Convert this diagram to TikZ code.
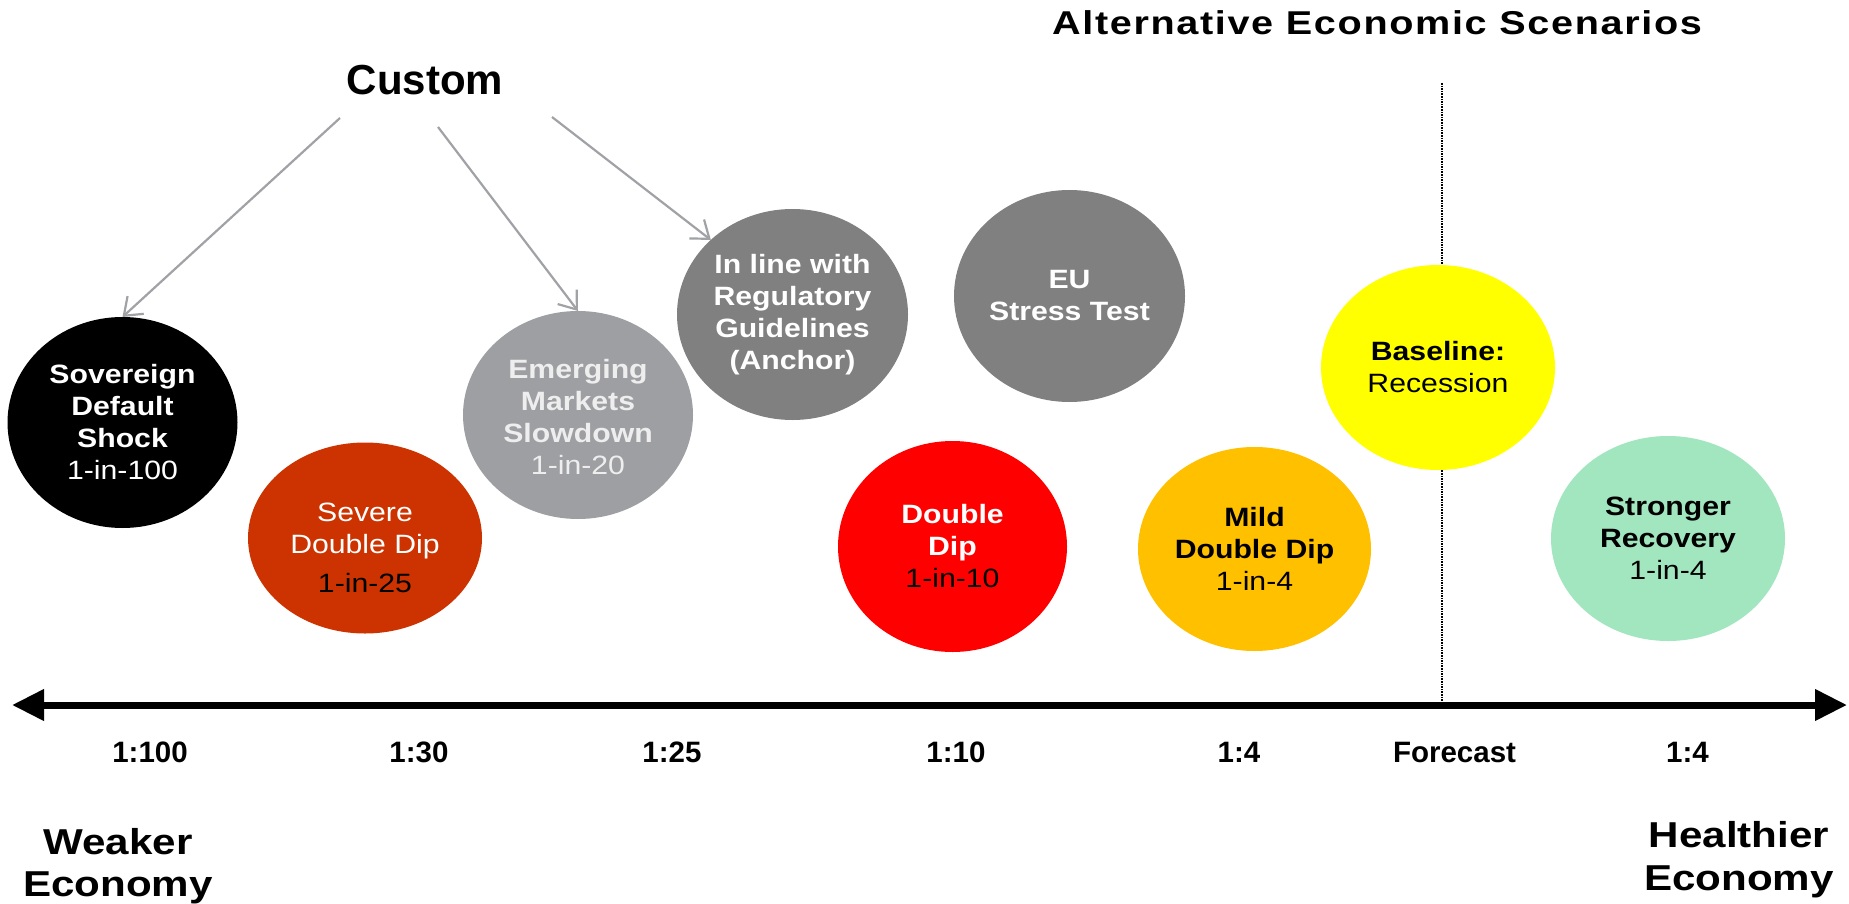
\documentclass[tikz,border=0pt]{standalone}
\usepackage{fontspec}
\setmainfont{Liberation Sans}
\newfontfamily\circfont{Liberation Sans}[FakeStretch=1.14]
\newfontfamily\widefont{Liberation Sans}[FakeStretch=1.17]
\newfontfamily\titlefont{Liberation Sans}[FakeStretch=1.2,LetterSpace=5]
\newfontfamily\tickfont{Liberation Sans}[FakeStretch=1.0]
\usetikzlibrary{arrows.meta,shapes.geometric}

\definecolor{cBlack}{HTML}{000000}
\definecolor{cSevere}{HTML}{CC3300}
\definecolor{cEmerging}{HTML}{9D9FA2}
\definecolor{cAnchor}{HTML}{808080}
\definecolor{cDouble}{HTML}{FF0000}
\definecolor{cMild}{HTML}{FFC000}
\definecolor{cBase}{HTML}{FFFF00}
\definecolor{cStrong}{HTML}{A2E6C0}
\definecolor{cArrow}{HTML}{A0A2A5}
\definecolor{cLight}{HTML}{EEEEEE}

\begin{document}
\begin{tikzpicture}[x=1pt,y=-1pt,
  bubble/.style={ellipse, draw=none, inner sep=0pt, outer sep=0pt},
  btext/.style={inner sep=0pt, align=center,
    font={\circfont\fontsize{26.5}{32}\selectfont}},
  tick/.style={inner sep=0pt, anchor=base,
    font={\tickfont\bfseries\fontsize{29.5}{34}\selectfont}},
  side/.style={inner sep=0pt, anchor=base,
    font={\widefont\bfseries\fontsize{36}{44}\selectfont}},
  custarrow/.style={draw=cArrow, line width=2.2pt,
    -{Straight Barb[length=16pt,width=24pt]}},
  axis/.style={line width=7pt,
    {Triangle[length=32pt,width=30pt]}-{Triangle[length=32pt,width=30pt]}}
]
\fill[white] (0,0) rectangle (1849,904);
\useasboundingbox (0,0) rectangle (1849,904);

% forecast divider (drawn first so the bubbles sit on top of it)
\coordinate (fcTop) at (1442,83);
\coordinate (axL) at (12,705);
\coordinate (axR) at (1847,705);
\draw[densely dotted, line width=1.6pt] (fcTop) -- (fcTop |- axL);

% scenario bubbles
\node[bubble, fill=cBlack,    minimum width=230pt, minimum height=211pt] (sov)    at (122.5,422.5) {};
\node[bubble, fill=cSevere,   minimum width=234pt, minimum height=191pt] (sdd)    at (365,538) {};
\node[bubble, fill=cEmerging, minimum width=230pt, minimum height=208pt] (emg)    at (578,415) {};
\node[bubble, fill=cAnchor,   minimum width=231pt, minimum height=211pt] (inl)    at (792.5,314.5) {};
\node[bubble, fill=cAnchor,   minimum width=231pt, minimum height=212pt] (eu)     at (1069.5,296) {};
\node[bubble, fill=cDouble,   minimum width=229pt, minimum height=211pt] (dd)     at (952.5,546.5) {};
\node[bubble, fill=cMild,     minimum width=233pt, minimum height=204pt] (mild)   at (1254.5,549) {};
\node[bubble, fill=cBase,     minimum width=234pt, minimum height=205pt] (base)   at (1438,367.5) {};
\node[bubble, fill=cStrong,   minimum width=234pt, minimum height=205pt] (strong) at (1668,538.5) {};

% bubble captions
\node[btext, text=white] (sovT) at (sov.center)
  {{\bfseries Sovereign}\\{\bfseries Default}\\{\bfseries Shock}\\1-in-100};
\node[btext, text=white] (sddT) at ([yshift=-10pt]sdd.center)
  {Severe\\Double Dip\\[7pt]\textcolor{black}{1-in-25}};
\node[btext, text=cLight] (emgT) at ([yshift=-2pt]emg.center)
  {{\bfseries Emerging}\\{\bfseries Markets}\\{\bfseries Slowdown}\\1-in-20};
\node[btext, text=white] (inlT) at (inl.center)
  {{\bfseries In line with}\\{\bfseries Regulatory}\\{\bfseries Guidelines}\\{\bfseries (Anchor)}};
\node[btext, text=white] (euT) at (eu.center)
  {{\bfseries EU}\\{\bfseries Stress Test}};
\node[btext, text=white] (ddT) at (dd.center)
  {{\bfseries Double}\\{\bfseries Dip}\\\textcolor{black}{1-in-10}};
\node[btext, text=black] (mildT) at (mild.center)
  {{\bfseries Mild}\\{\bfseries Double Dip}\\1-in-4};
\node[btext, text=black] (baseT) at (base.center)
  {{\bfseries Baseline:}\\Recession};
\node[btext, text=black] (strongT) at (strong.center)
  {{\bfseries Stronger}\\{\bfseries Recovery}\\1-in-4};

% headings
\node[inner sep=0pt, anchor=base, font={\titlefont\bfseries\fontsize{33}{38}\selectfont}]
  (title) at (1377,35) {Alternative Economic Scenarios};
\node[inner sep=0pt, anchor=base, font={\bfseries\fontsize{42}{50}\selectfont}]
  (custom) at (425,95) {Custom};

% arrows from the custom heading
\coordinate (cs1) at (340,118);
\coordinate (cs2) at (438,127);
\coordinate (cs3) at (552,117);
\draw[custarrow] (cs1) -- (sov.north);
\draw[custarrow] (cs2) -- (emg.north);
\draw[custarrow] (cs3) -- (inl.north west);

% severity axis
\draw[axis] (axL) -- (axR);
\node[tick] (t1) at (150,762) {1:100};
\node[tick] (t2) at (419,762) {1:30};
\node[tick] (t3) at (672,762) {1:25};
\node[tick] (t4) at (956,762) {1:10};
\node[tick] (t5) at (1239,762) {1:4};
\node[tick] (t6) at (1454.5,762) {Forecast};
\node[tick] (t7) at (1687.5,762) {1:4};

% axis end captions
\node[side] (weak1) at (118,854) {Weaker};
\node[side] (weak2) at (118,896) {Economy};
\node[side] (hlth1) at (1739,847) {Healthier};
\node[side] (hlth2) at (1739,890) {Economy};
\end{tikzpicture}
\end{document}
